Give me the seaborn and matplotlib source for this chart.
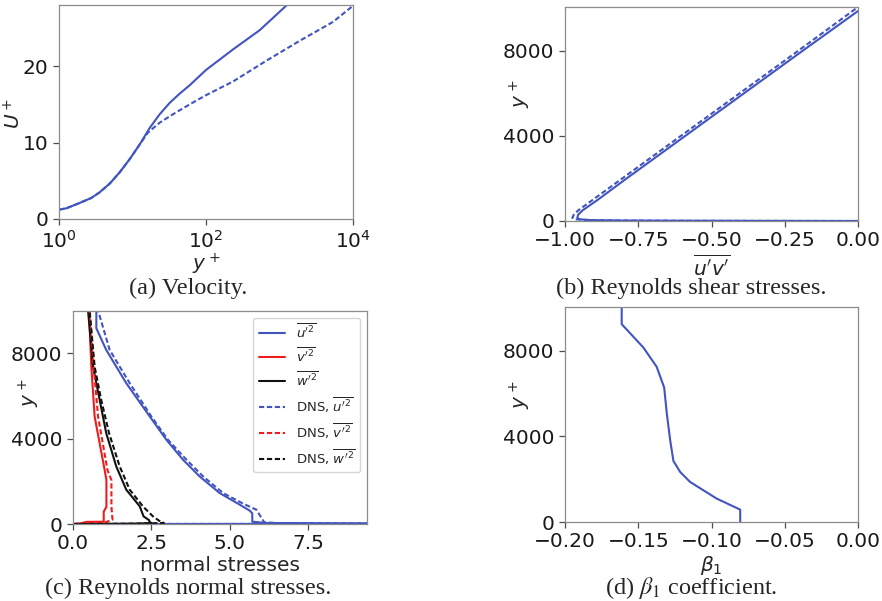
import numpy as np
import pandas as pd
import matplotlib
matplotlib.use("Agg")
import matplotlib.pyplot as plt
import seaborn as sns

# ---------------- data ----------------
# (a) velocity profile
a_yplus_model = [1, 1.26, 1.91, 2.75, 3.57, 4.9, 6.7, 9.2, 12.5, 17.1, 23.4, 32.1, 43.8, 60, 100, 234, 537, 1230, 2000]
a_U_model = [1.22, 1.40, 2.10, 2.75, 3.49, 4.63, 6.11, 7.86, 9.74, 11.9, 13.7, 15.2, 16.4, 17.5, 19.5, 22.2, 24.7, 27.9, 29.5]
a_yplus_dns = [1, 1.26, 1.91, 2.75, 3.57, 4.9, 6.7, 9.2, 12.5, 16.2, 23.4, 35.5, 60, 100, 234, 660, 1870, 5370, 10000]
a_U_dns = [1.22, 1.40, 2.10, 2.75, 3.49, 4.63, 6.11, 7.86, 9.74, 11.3, 12.6, 13.7, 15.0, 16.2, 18.0, 20.7, 23.3, 25.8, 27.9]

# (b) Reynolds shear stress
b_y_model = [0, 5, 10, 20, 40, 80, 150, 300, 500, 1000, 2000, 4000, 6000, 8000, 9880]
b_uv_model = [0, -0.25, -0.55, -0.8, -0.91, -0.95, -0.958, -0.955, -0.94, -0.888, -0.79, -0.59, -0.39, -0.19, 0.0]
b_y_dns = [0, 5, 10, 20, 40, 80, 150, 300, 500, 1000, 2000, 4000, 6000, 8000, 10070]
b_uv_dns = [0, -0.22, -0.5, -0.78, -0.92, -0.965, -0.975, -0.97, -0.955, -0.905, -0.805, -0.605, -0.405, -0.205, 0.0]

# (c) Reynolds normal stresses
c_y_u2 = [0, 4, 8, 15, 25, 40, 110, 500, 624, 905, 1450, 2230, 3010, 3945, 5037, 6596, 8156, 9170, 10000]
c_u2 = [0, 5.5, 8.6, 9.7, 8.2, 6.2, 5.72, 5.72, 5.64, 5.32, 4.68, 4.04, 3.51, 2.98, 2.45, 1.70, 1.06, 0.745, 0.745]
c_y_v2 = [0, 30, 100, 108, 575, 809, 2058, 2526, 5037, 7376, 10000]
c_v2 = [0, 0.25, 0.43, 0.98, 0.98, 1.066, 1.066, 1.01, 0.69, 0.585, 0.51]
c_y_w2 = [0, 5, 15, 40, 94, 187, 359, 827, 1606, 2698, 4257, 5817, 7376, 10000]
c_w2 = [0, 0.8, 1.9, 2.5, 2.45, 2.42, 2.25, 2.13, 1.70, 1.38, 1.06, 0.85, 0.64, 0.48]
c_y_u2_dns = [0, 4, 8, 15, 25, 40, 80, 670, 951, 1450, 2230, 3010, 3945, 5037, 6596, 8156, 10000]
c_u2_dns = [0, 5.8, 8.9, 9.9, 8.5, 6.6, 6.1, 5.85, 5.43, 4.79, 4.15, 3.62, 3.03, 2.50, 1.81, 1.17, 0.80]
c_y_v2_dns = [0, 20, 60, 203, 827, 2058, 2526, 5037, 7376, 10000]
c_v2_dns = [0, 0.3, 1.0, 1.26, 1.226, 1.226, 1.10, 0.80, 0.66, 0.53]
c_y_w2_dns = [0, 5, 15, 50, 78, 359, 827, 1606, 2698, 4257, 5817, 7376, 10000]
c_w2_dns = [0, 0.9, 2.0, 2.9, 2.82, 2.55, 2.23, 1.81, 1.49, 1.15, 0.90, 0.69, 0.53]

# (d) beta_1 coefficient
d_y = [0, 577, 1092, 1481, 1871, 2339, 2854, 3821, 5068, 6285, 7251, 8156, 9248, 10050]
d_beta1 = [-0.0804, -0.0804, -0.0964, -0.1055, -0.1146, -0.1214, -0.126, -0.1282,
           -0.1305, -0.1323, -0.1374, -0.1465, -0.1613, -0.1613]

captions = ["(a) Velocity.", "(b) Reynolds shear stresses.",
            "(c) Reynolds normal stresses.", r"(d) $\beta_1$ coefficient."]

# ---------------- style ----------------
sns.set_style("ticks", {"axes.edgecolor": "0.55", "xtick.color": "0.3", "ytick.color": "0.3"})
plt.rcParams["font.family"] = ["DejaVu Sans"]
plt.rcParams["xtick.labelcolor"] = "0.1"
plt.rcParams["ytick.labelcolor"] = "0.1"
plt.rcParams["axes.linewidth"] = 0.9

BLUE = "#4254c0"
RED = "#ee1c1c"
BLACK = "#111111"
FS = 14.5
LW = 1.5
DASH = (0, (2.5, 1.3))

W, H = 882, 601
fig = plt.figure(figsize=(W / 100, H / 100), dpi=100)


def axes_px(left, right, top, bottom):
    return fig.add_axes([left / W, 1 - bottom / H, (right - left) / W, (bottom - top) / H])


def line(ax, x, y, color, ls="-", label=None):
    df = pd.DataFrame({"x": x, "y": y})
    sns.lineplot(data=df, x="x", y="y", ax=ax, color=color, lw=LW, linestyle=ls,
                 sort=False, estimator=None, label=label, legend=False)


axA = axes_px(59, 353, 5, 219)
axB = axes_px(565, 858, 7, 221)
axC = axes_px(73, 367, 311, 524)
axD = axes_px(565, 858, 307, 522)

# (a)
line(axA, a_yplus_model, a_U_model, BLUE)
line(axA, a_yplus_dns, a_U_dns, BLUE, DASH)
axA.set_xscale("log")
axA.set_xlim(1, 1e4)
axA.set_ylim(0, 28)
axA.set_xticks([1, 100, 1e4])
axA.minorticks_off()
axA.set_yticks([0, 10, 20])
axA.set_xlabel(r"$y^+$", fontsize=FS)
axA.set_ylabel(r"$U^+$", fontsize=FS)

# (b)
line(axB, b_uv_model, b_y_model, BLUE)
line(axB, b_uv_dns, b_y_dns, BLUE, DASH)
axB.set_xlim(-1, 0)
axB.set_ylim(0, 10070)
axB.set_xticks([-1.0, -0.75, -0.5, -0.25, 0.0])
axB.set_xticklabels(["\u22121.00", "\u22120.75", "\u22120.50", "\u22120.25", "0.00"])
axB.set_yticks([0, 4000, 8000])
axB.set_xlabel(r"$\overline{u'v'}$", fontsize=FS)
axB.set_ylabel(r"$y^+$", fontsize=FS)

# (c)
line(axC, c_u2, c_y_u2, BLUE, "-", r"$\overline{u'^2}$")
line(axC, c_v2, c_y_v2, RED, "-", r"$\overline{v'^2}$")
line(axC, c_w2, c_y_w2, BLACK, "-", r"$\overline{w'^2}$")
line(axC, c_u2_dns, c_y_u2_dns, BLUE, DASH, r"DNS, $\overline{u'^2}$")
line(axC, c_v2_dns, c_y_v2_dns, RED, DASH, r"DNS, $\overline{v'^2}$")
line(axC, c_w2_dns, c_y_w2_dns, BLACK, DASH, r"DNS, $\overline{w'^2}$")
axC.set_xlim(0, 9.38)
axC.set_ylim(0, 9980)
axC.set_xticks([0, 2.5, 5.0, 7.5])
axC.set_yticks([0, 4000, 8000])
axC.set_xlabel("normal stresses", fontsize=FS)
axC.set_ylabel(r"$y^+$", fontsize=FS)
axC.legend(loc="upper right", fontsize=9.5, labelspacing=0.5, handlelength=2.0,
           borderpad=0.4, frameon=True)

# (d)
line(axD, d_beta1, d_y, BLUE)
axD.set_xlim(-0.2, 0)
axD.set_ylim(0, 10050)
axD.set_xticks([-0.2, -0.15, -0.1, -0.05, 0.0])
axD.set_xticklabels(["\u22120.20", "\u22120.15", "\u22120.10", "\u22120.05", "0.00"])
axD.set_yticks([0, 4000, 8000])
axD.set_xlabel(r"$\beta_1$", fontsize=FS)
axD.set_ylabel(r"$y^+$", fontsize=FS)

for ax in (axA, axB, axC, axD):
    ax.tick_params(labelsize=FS, length=4, width=0.9)
    for s in ax.spines.values():
        s.set_visible(True)

# label placement (axes fractions)
axA.yaxis.set_label_coords(-0.116, 0.495)
axB.yaxis.set_label_coords(-0.109, 0.593)
axC.yaxis.set_label_coords(-0.105, 0.615)
axD.yaxis.set_label_coords(-0.109, 0.59)
axA.xaxis.set_label_coords(0.5, -0.155)
axB.xaxis.set_label_coords(0.5, -0.155)
axC.xaxis.set_label_coords(0.5, -0.15)
axD.xaxis.set_label_coords(0.5, -0.15)

# captions
cap_pos = [(188, 288), (691, 288), (188, 588), (691, 588)]
for (cx, cy), txt in zip(cap_pos, captions):
    fig.text(cx / W, 1 - cy / H, txt, ha="center", va="center", fontsize=17.5,
             fontfamily="Liberation Serif", math_fontfamily="stix")

fig.savefig("out.png", dpi=100)
